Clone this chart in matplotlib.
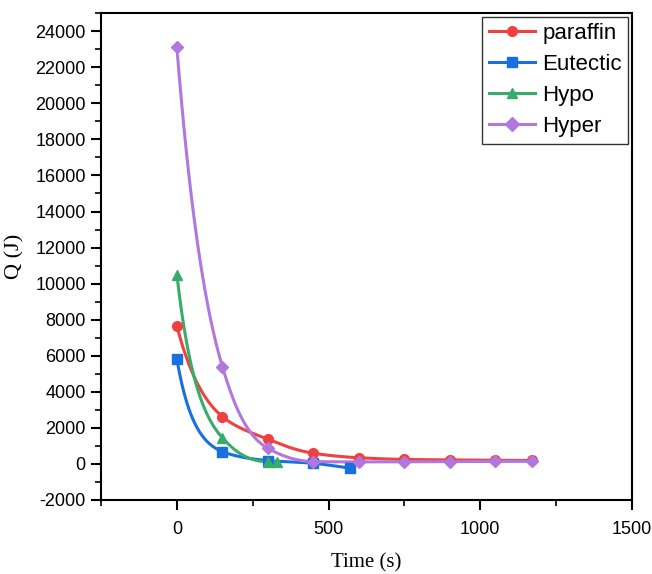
import numpy as np
import matplotlib
matplotlib.use("Agg")
import matplotlib.pyplot as plt
from matplotlib.ticker import MultipleLocator

plt.rcParams["axes.unicode_minus"] = False

# data
t_paraffin = [0, 150, 300, 450, 600, 750, 900, 1050, 1170]
q_paraffin = [7650, 2620, 1370, 590, 340, 250, 220, 200, 190]

t_eutectic = [0, 150, 300, 450, 570]
q_eutectic = [5800, 680, 185, 40, -230]

t_hypo = [0, 150, 300, 330]
q_hypo = [10500, 1450, 120, 120]

t_hyper = [0, 150, 300, 450, 600, 750, 900, 1050, 1170]
q_hyper = [23100, 5400, 870, 130, 110, 120, 130, 140, 140]

series = [
    ("paraffin", t_paraffin, q_paraffin, "#F14040", "o"),
    ("Eutectic", t_eutectic, q_eutectic, "#1A6FDF", "s"),
    ("Hypo", t_hypo, q_hypo, "#37AD6B", "^"),
    ("Hyper", t_hyper, q_hyper, "#B177DE", "D"),
]


def pchip(x, y, xs):
    # monotone cubic hermite through the points
    x = np.asarray(x, float)
    y = np.asarray(y, float)
    h = np.diff(x)
    d = np.diff(y) / h
    k = len(x)
    m = np.zeros(k)
    for i in range(1, k - 1):
        if d[i - 1] * d[i] > 0:
            w1 = 2 * h[i] + h[i - 1]
            w2 = h[i] + 2 * h[i - 1]
            m[i] = (w1 + w2) / (w1 / d[i - 1] + w2 / d[i])
    if k > 2:
        m[0] = ((2 * h[0] + h[1]) * d[0] - h[0] * d[1]) / (h[0] + h[1])
        if np.sign(m[0]) != np.sign(d[0]):
            m[0] = 0
        m[-1] = ((2 * h[-1] + h[-2]) * d[-1] - h[-1] * d[-2]) / (h[-1] + h[-2])
        if np.sign(m[-1]) != np.sign(d[-1]):
            m[-1] = 0
    else:
        m[:] = d[0]
    idx = np.clip(np.searchsorted(x, xs) - 1, 0, k - 2)
    hh = h[idx]
    s = (xs - x[idx]) / hh
    return ((2 * s**3 - 3 * s**2 + 1) * y[idx] + (s**3 - 2 * s**2 + s) * hh * m[idx]
            + (-2 * s**3 + 3 * s**2) * y[idx + 1] + (s**3 - s**2) * hh * m[idx + 1])


def smooth(t, q, off=400.0):
    # drawn curve only: hermite in log(q + off) gives the decaying look
    xs = np.linspace(t[0], t[-1], 300)
    ys = np.exp(pchip(t, np.log(np.asarray(q, float) + off), xs)) - off
    return xs, ys


fig = plt.figure(figsize=(6.52, 5.74), dpi=100)
ax = fig.add_axes([0.155, 0.129, 0.814, 0.848])

for name, t, q, col, mk in series:
    xs, ys = smooth(t, q)
    ax.plot(xs, ys, color=col, lw=2.2, zorder=2)
    ax.plot(t, q, linestyle="none", marker=mk, color=col,
            markersize=7 if mk != "D" else 6.5, zorder=3)
    ax.plot([], [], color=col, lw=2.2, marker=mk, markersize=7, label=name)

ax.set_xlim(-250, 1500)
ax.set_ylim(-2000, 25000)
ax.xaxis.set_major_locator(MultipleLocator(500))
ax.xaxis.set_minor_locator(MultipleLocator(250))
ax.yaxis.set_minor_locator(MultipleLocator(1000))
ax.set_yticks(np.arange(-2000, 24001, 2000))

ax.tick_params(which="major", direction="out", length=7, width=1.5,
               labelsize=13, pad=4)
ax.tick_params(axis="x", which="major", pad=8)
ax.tick_params(which="minor", direction="out", length=4, width=1.2)
for lab in ax.get_xticklabels() + ax.get_yticklabels():
    lab.set_fontfamily("Liberation Sans")
for s in ax.spines.values():
    s.set_linewidth(1.5)

ax.set_xlabel("Time (s)", fontsize=15, family="Liberation Serif", labelpad=11)
ax.set_ylabel("Q (J)", fontsize=16, family="Liberation Serif", labelpad=8)

leg = ax.legend(loc="upper right", prop={"family": "Liberation Sans", "size": 16},
                frameon=True, fancybox=False, edgecolor="black",
                handlelength=2.1, handletextpad=0.3, labelspacing=0.45,
                borderpad=0.3, borderaxespad=0.15)
leg.get_frame().set_linewidth(1.0)

fig.savefig("out.png", dpi=100)
